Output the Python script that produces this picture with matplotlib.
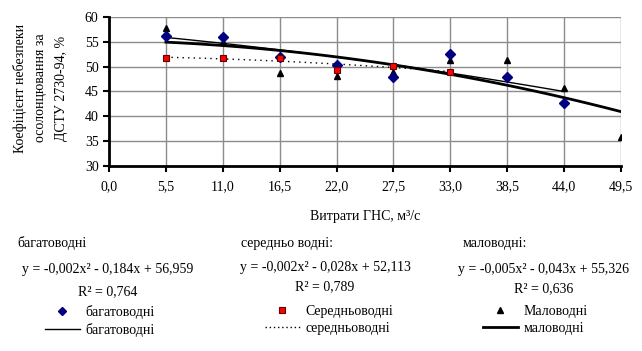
import numpy as np
import matplotlib
matplotlib.use("Agg")
import matplotlib.pyplot as plt
from matplotlib.lines import Line2D

plt.rcParams['font.family'] = ['Liberation Serif', 'DejaVu Serif']

# flow rate, m3/s
x_ticks = [0.0, 5.5, 11.0, 16.5, 22.0, 27.5, 33.0, 38.5, 44.0, 49.5]

x_high = [5.5, 11.0, 16.5, 22.0, 27.5, 33.0, 38.5, 44.0]
y_high = [56.1, 56.0, 52.0, 50.4, 48.0, 52.6, 48.0, 42.6]

x_mid = [5.5, 11.0, 16.5, 22.0, 27.5, 33.0]
y_mid = [51.8, 51.8, 51.8, 49.4, 50.1, 48.9]

x_low = [5.5, 11.0, 16.5, 22.0, 27.5, 33.0, 38.5, 44.0, 49.5]
y_low = [57.7, 54.9, 48.7, 48.2, 49.0, 51.4, 51.4, 45.7, 35.9]

# trend coefficients as printed on the chart
coef_high = [-0.002, -0.184, 56.959]
coef_mid = [-0.002, -0.028, 52.113]
coef_low = [-0.005, -0.043, 55.326]
r2_high, r2_mid, r2_low = 0.764, 0.789, 0.636

names = ['багатоводні', 'Середньоводні', 'Маловодні']
trend_names = ['багатоводні', 'середньоводні', 'маловодні']
headers = ['багатоводні', 'середньо водні:', 'маловодні:']
ylabel_lines = ['Коефіцієнт небезпеки', 'осолонцювання за', 'ДСТУ 2730-94, %']
xlabel = 'Витрати ГНС, м³/с'


def fmt(v):
    return ('%.3f' % abs(v)).replace('.', ',')


def eq_text(c):
    s = 'y = %s%sx²' % ('-' if c[0] < 0 else '', fmt(c[0]))
    s += ' %s %sx' % ('-' if c[1] < 0 else '+', fmt(c[1]))
    s += ' %s %s' % ('-' if c[2] < 0 else '+', fmt(c[2]))
    return s


W, H = 642, 351
fig = plt.figure(figsize=(W / 100, H / 100), dpi=100)
ax = fig.add_axes([109 / W, 1 - 166 / H, (621 - 109) / W, (166 - 17) / H])

fs = 10
grid_c = '#8c8c8c'
ax.set_xlim(0, 49.5)
ax.set_ylim(30, 60)
ax.set_xticks(x_ticks)
ax.set_xticklabels([('%.1f' % t).replace('.', ',') for t in x_ticks], fontsize=fs)
ax.set_yticks(np.arange(30, 61, 5))
ax.tick_params(axis='y', labelsize=fs, length=4, width=1.5)
ax.tick_params(axis='x', length=4, width=1.5, pad=6)
ax.grid(True, color=grid_c, lw=1)
ax.set_axisbelow(True)
for s in ['top', 'right']:
    ax.spines[s].set_visible(False)
for s in ['left', 'bottom']:
    ax.spines[s].set_linewidth(2)

# trend lines
xs = np.linspace(min(x_high), max(x_high), 100)
ax.plot(xs, np.polyval(coef_high, xs), color='black', lw=1)
xs = np.linspace(min(x_mid), max(x_mid), 100)
ax.plot(xs, np.polyval(coef_mid, xs), color='black', lw=1, ls=(0, (1, 3)))
xs = np.linspace(min(x_low), max(x_low), 100)
ax.plot(xs, np.polyval(coef_low, xs), color='black', lw=2)

# points
ax.plot(x_low, y_low, '^', color='black', ms=5, ls='none', zorder=4)
ax.plot(x_high, y_high, 'D', color='#000080', ms=5, ls='none', zorder=5)
ax.plot(x_mid, y_mid, 's', mfc='#ff0000', mec='#600000', mew=0.8, ms=4, ls='none', zorder=6)

ax.set_xlabel(xlabel, fontsize=fs, labelpad=12)

# y label, three rotated lines
for xp, line in zip([20, 41, 62], ylabel_lines):
    fig.text(xp / W, 1 - 88 / H, line, fontsize=fs, rotation=90, ha='center', va='center')

# equation blocks
hx = [17, 241, 463]
cx = [108, 325, 544]
eq_y = [270, 268, 270]
r_y = [292, 287, 289]
coefs = [coef_high, coef_mid, coef_low]
r2s = [r2_high, r2_mid, r2_low]
for i in range(3):
    fig.text(hx[i] / W, 1 - 243 / H, headers[i], fontsize=fs, ha='left', va='center')
    fig.text(cx[i] / W, 1 - eq_y[i] / H, eq_text(coefs[i]), fontsize=fs, ha='center', va='center')
    fig.text(cx[i] / W, 1 - r_y[i] / H, 'R² = %s' % ('%.3f' % r2s[i]).replace('.', ','),
             fontsize=fs, ha='center', va='center')

# legends
h_pts = [Line2D([], [], marker='D', color='#000080', ls='none', ms=4),
         Line2D([], [], marker='s', mfc='#ff0000', mec='#600000', mew=0.8, ls='none', ms=4),
         Line2D([], [], marker='^', color='black', ls='none', ms=4)]
h_lines = [Line2D([], [], color='black', lw=1),
           Line2D([], [], color='black', lw=1, ls=(0, (1, 2))),
           Line2D([], [], color='black', lw=2)]
lx = [45, 265, 483]
for i in range(3):
    fig.legend(handles=[h_pts[i], h_lines[i]], labels=[names[i], trend_names[i]],
               loc='upper left', bbox_to_anchor=(lx[i] / W, 1 - 305 / H),
               frameon=False, fontsize=fs, borderpad=0, borderaxespad=0,
               handlelength=2.5, handletextpad=0.4, labelspacing=0.3, numpoints=1)

fig.savefig('out.png', dpi=100)
